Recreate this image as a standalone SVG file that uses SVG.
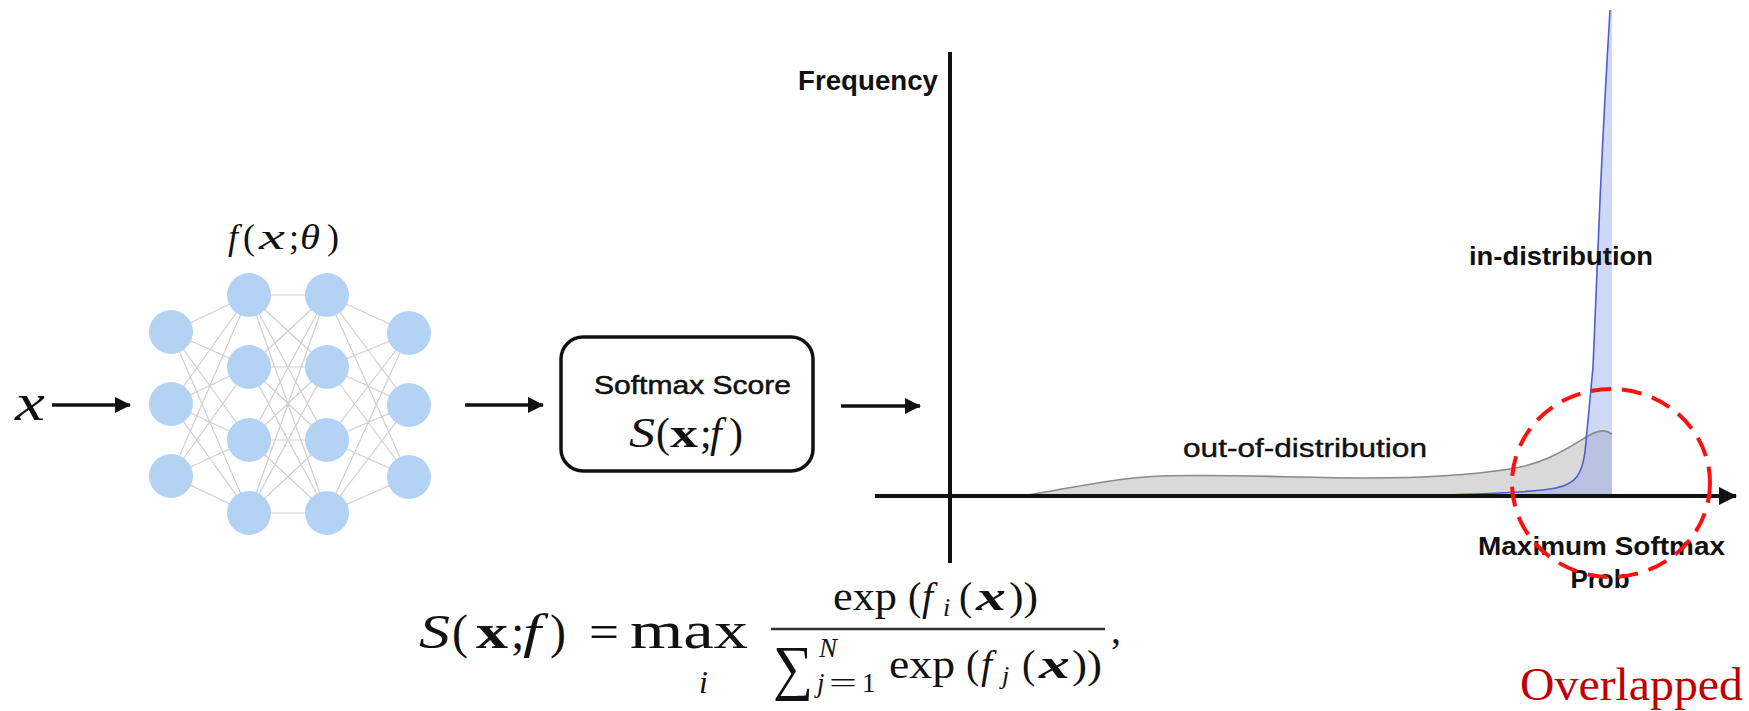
<svg xmlns="http://www.w3.org/2000/svg" width="1749" height="711" viewBox="0 0 1749 711">
<defs>
<style>
.sans{font-family:"Liberation Sans",Arial,sans-serif;fill:#111}
.m{font-family:"Liberation Serif","DejaVu Serif",serif;fill:#111}
.it{font-style:italic}
.b{font-weight:bold}
.node{fill:#b4d2f4}
.edge{stroke:#cfcfcf;stroke-width:1.2;fill:none}
.arr{stroke:#111;stroke-width:3.5;fill:none}
.axis{stroke:#111;stroke-width:4;fill:none}
</style>
<marker id="ah" markerUnits="userSpaceOnUse" markerWidth="18" markerHeight="18" refX="15" refY="8" orient="auto">
<path d="M0,0 L16,8 L0,16 Z" fill="#111"/>
</marker>
<marker id="axh" markerUnits="userSpaceOnUse" markerWidth="20" markerHeight="20" refX="17" refY="9" orient="auto">
<path d="M0,0 L18,9 L0,18 Z" fill="#111"/>
</marker>
</defs>
<rect width="1749" height="711" fill="#fff"/>

<g id="input-x">
<text class="m it" x="15" y="420" font-size="52" textLength="30" lengthAdjust="spacingAndGlyphs">x</text>
</g>

<g id="network">
<text class="m it" x="228" y="249" font-size="36">f</text>
<text class="m" x="243" y="249" font-size="36">(</text>
<text class="m it" x="259" y="249" font-size="36" textLength="26" lengthAdjust="spacingAndGlyphs">x</text>
<text class="m" x="289" y="249" font-size="36">;</text>
<text class="m it" x="300" y="249" font-size="36" textLength="20" lengthAdjust="spacingAndGlyphs">θ</text>
<text class="m" x="327" y="249" font-size="36">)</text>
<path class="edge" d="M171 332L249 295M171 332L249 367M171 332L249 440M171 332L249 513M171 404L249 295M171 404L249 367M171 404L249 440M171 404L249 513M171 476L249 295M171 476L249 367M171 476L249 440M171 476L249 513M249 295L327 295M249 295L327 367M249 295L327 440M249 295L327 513M249 367L327 295M249 367L327 367M249 367L327 440M249 367L327 513M249 440L327 295M249 440L327 367M249 440L327 440M249 440L327 513M249 513L327 295M249 513L327 367M249 513L327 440M249 513L327 513M327 295L409 333M327 295L409 405M327 295L409 477M327 367L409 333M327 367L409 405M327 367L409 477M327 440L409 333M327 440L409 405M327 440L409 477M327 513L409 333M327 513L409 405M327 513L409 477"/>
<circle class="node" cx="171" cy="332" r="22"/>
<circle class="node" cx="171" cy="404" r="22"/>
<circle class="node" cx="171" cy="476" r="22"/>
<circle class="node" cx="249" cy="295" r="22"/>
<circle class="node" cx="249" cy="367" r="22"/>
<circle class="node" cx="249" cy="440" r="22"/>
<circle class="node" cx="249" cy="513" r="22"/>
<circle class="node" cx="327" cy="295" r="22"/>
<circle class="node" cx="327" cy="367" r="22"/>
<circle class="node" cx="327" cy="440" r="22"/>
<circle class="node" cx="327" cy="513" r="22"/>
<circle class="node" cx="409" cy="333" r="22"/>
<circle class="node" cx="409" cy="405" r="22"/>
<circle class="node" cx="409" cy="477" r="22"/>
</g>

<g id="softmax-box">
<rect x="561" y="337" width="252" height="134" rx="22" fill="#fff" stroke="#111" stroke-width="3.5"/>
<text class="sans" x="594" y="394" font-size="26" textLength="197" lengthAdjust="spacingAndGlyphs" stroke="#111" stroke-width="0.5">Softmax Score</text>
<text class="m it" x="629" y="447" font-size="42" textLength="26" lengthAdjust="spacingAndGlyphs">S</text>
<text class="m" x="656" y="447" font-size="42">(</text>
<text class="m b" x="670" y="447" font-size="42" textLength="28" lengthAdjust="spacingAndGlyphs">x</text>
<text class="m" x="700" y="447" font-size="42">;</text>
<text class="m it" x="710" y="447" font-size="42">f</text>
<text class="m" x="729" y="447" font-size="42">)</text>
</g>

<g id="chart">
<path d="M1022,496 C1070,488 1115,478 1160,476 C1230,474 1300,478 1370,478 C1430,478 1470,475 1510,469 C1545,464 1568,448 1588,436 C1600,429 1606,430 1612,434 L1612,496 Z" fill="#d9d9d9"/>
<path d="M1440,495 C1490,494 1535,492 1556,488 C1576,484 1582,474 1585,452 L1593,367 L1600,200 C1604,110 1607,60 1610,10 L1612,10 L1612,496 L1440,496 Z" fill="#8fa3ec" fill-opacity="0.42"/>
<path d="M1022,496 C1070,488 1115,478 1160,476 C1230,474 1300,478 1370,478 C1430,478 1470,475 1510,469 C1545,464 1568,448 1588,436 C1600,429 1606,430 1612,434" fill="none" stroke="#8a8a8a" stroke-width="1.6"/>
<path d="M1440,495 C1490,494 1535,492 1556,488 C1576,484 1582,474 1585,452 L1593,367 L1600,200 C1604,110 1607,60 1610,10" fill="none" stroke="#4a5fd0" stroke-width="1.6"/>
<line class="axis" x1="950" y1="52" x2="950" y2="563"/>
<line class="axis" x1="875" y1="496" x2="1736" y2="496" marker-end="url(#axh)"/>
<text class="sans b" x="798" y="90" font-size="27" textLength="140" lengthAdjust="spacingAndGlyphs">Frequency</text>
<text class="sans" x="1183" y="457" font-size="25" textLength="244" lengthAdjust="spacingAndGlyphs" stroke="#111" stroke-width="0.4">out-of-distribution</text>
<text class="sans b" x="1469" y="265" font-size="25" textLength="184" lengthAdjust="spacingAndGlyphs">in-distribution</text>
<text class="sans b" x="1478" y="555" font-size="26" textLength="247" lengthAdjust="spacingAndGlyphs">Maximum Softmax</text>
<text class="sans b" x="1600" y="588" font-size="26" text-anchor="middle">Prob</text>
<ellipse cx="1611" cy="483" rx="99" ry="94" fill="none" stroke="#ff1010" stroke-width="4" stroke-dasharray="20 11"/>
</g>

<g id="formula">
<text class="m it" x="419" y="648" font-size="48" textLength="31" lengthAdjust="spacingAndGlyphs">S</text>
<text class="m" x="452" y="648" font-size="48">(</text>
<text class="m b" x="476" y="648" font-size="48" textLength="32" lengthAdjust="spacingAndGlyphs">x</text>
<text class="m" x="511" y="648" font-size="48">;</text>
<text class="m it" x="523" y="648" font-size="48" textLength="18" lengthAdjust="spacingAndGlyphs">f</text>
<text class="m" x="550" y="648" font-size="48">)</text>
<text class="m" x="589" y="648" font-size="48" textLength="30" lengthAdjust="spacingAndGlyphs">=</text>
<text class="m" x="630" y="648" font-size="52" textLength="118" lengthAdjust="spacingAndGlyphs">max</text>
<text class="m it" x="699" y="693" font-size="32">i</text>
<line x1="771" y1="629" x2="1105" y2="629" stroke="#333" stroke-width="2.5"/>
<text class="m" x="833" y="610" font-size="40" textLength="64" lengthAdjust="spacingAndGlyphs">exp</text>
<text class="m" x="908" y="610" font-size="40">(</text>
<text class="m it" x="922" y="610" font-size="40">f</text>
<text class="m it" x="943" y="616" font-size="26">i</text>
<text class="m" x="959" y="610" font-size="40">(</text>
<text class="m b it" x="976" y="610" font-size="40" textLength="30" lengthAdjust="spacingAndGlyphs">x</text>
<text class="m" x="1009" y="610" font-size="40" textLength="29" lengthAdjust="spacingAndGlyphs">))</text>
<text class="m" x="773" y="688" font-size="61" textLength="40" lengthAdjust="spacingAndGlyphs">∑</text>
<text class="m it" x="819" y="657" font-size="27">N</text>
<text class="m it" x="817" y="692" font-size="27">j</text>
<text class="m" x="829" y="692" font-size="27" textLength="28" lengthAdjust="spacingAndGlyphs">=</text>
<text class="m" x="862" y="692" font-size="27">1</text>
<text class="m" x="889" y="678" font-size="40" textLength="66" lengthAdjust="spacingAndGlyphs">exp</text>
<text class="m" x="966" y="678" font-size="40">(</text>
<text class="m it" x="981" y="678" font-size="40">f</text>
<text class="m it" x="1002" y="684" font-size="26">j</text>
<text class="m" x="1022" y="678" font-size="40">(</text>
<text class="m b it" x="1039" y="678" font-size="40" textLength="31" lengthAdjust="spacingAndGlyphs">x</text>
<text class="m" x="1072" y="678" font-size="40" textLength="30" lengthAdjust="spacingAndGlyphs">))</text>
<text class="m" x="1111" y="643" font-size="40">,</text>
</g>

<g id="overlapped">
<text x="1743" y="700" font-size="46" text-anchor="end" textLength="223" lengthAdjust="spacingAndGlyphs" style="font-family:'Liberation Serif',serif;fill:#c00000">Overlapped</text>
</g>

<g id="connectors">
<line class="arr" x1="52" y1="405" x2="130" y2="405" marker-end="url(#ah)"/>
<line class="arr" x1="465" y1="405" x2="543" y2="405" marker-end="url(#ah)"/>
<line class="arr" x1="841" y1="406" x2="920" y2="406" marker-end="url(#ah)"/>
</g>
</svg>
